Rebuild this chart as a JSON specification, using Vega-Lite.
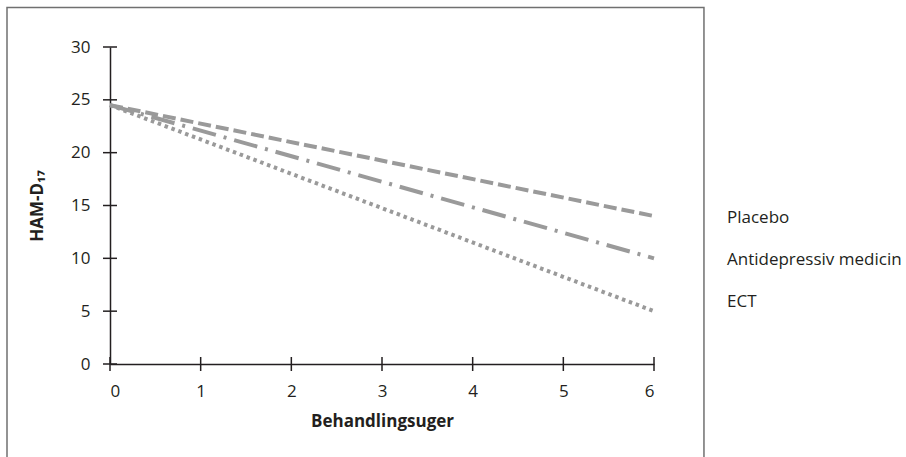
{
  "$schema": "https://vega.github.io/schema/vega-lite/v6.json",
  "width": 544,
  "height": 317,
  "autosize": {"type": "none"},
  "padding": {"left": 110, "top": 47, "right": 252, "bottom": 93},
  "background": "white",
  "config": {
    "view": {"stroke": null},
    "font": "Open Sans",
    "axis": {
      "grid": false,
      "domainColor": "#231f20",
      "domainWidth": 1.5,
      "ticks": false,
      "labelFontSize": 17,
      "labelColor": "#231f20",
      "labelFont": "Open Sans",
      "titleFont": "Open Sans",
      "titleFontSize": 17,
      "titleFontWeight": "bold",
      "titleColor": "#231f20"
    },
    "legend": {
      "labelFont": "Open Sans",
      "labelFontSize": 17,
      "labelColor": "#231f20",
      "labelLimit": 400
    }
  },
  "resolve": {"axis": {"x": "independent", "y": "independent"}},
  "datasets": {
    "linjer": [
      {"series": "Placebo", "uge": 0, "score": 24.5},
      {"series": "Placebo", "uge": 6, "score": 14},
      {"series": "Antidepressiv medicin", "uge": 0, "score": 24.5},
      {"series": "Antidepressiv medicin", "uge": 6, "score": 10},
      {"series": "ECT", "uge": 0, "score": 24.5},
      {"series": "ECT", "uge": 6, "score": 5}
    ],
    "yticks": [{"hamd": 0}, {"hamd": 5}, {"hamd": 10}, {"hamd": 15}, {"hamd": 20}, {"hamd": 25}, {"hamd": 30}],
    "xticks": [{"uge": 0}, {"uge": 1}, {"uge": 2}, {"uge": 3}, {"uge": 4}, {"uge": 5}, {"uge": 6}]
  },
  "layer": [
    {
      "data": {"values": [{"frame": "box"}]},
      "mark": {"type": "rect", "filled": false, "stroke": "#707070", "strokeWidth": 1.5, "clip": false},
      "encoding": {
        "x": {
          "datum": -1.136,
          "type": "quantitative",
          "scale": {"domain": [0, 6], "nice": false, "zero": false},
          "axis": null
        },
        "x2": {"datum": 6.551},
        "y": {
          "datum": 33.75,
          "type": "quantitative",
          "scale": {"domain": [0, 30], "nice": false, "zero": false},
          "axis": null
        },
        "y2": {"datum": -9.5}
      }
    },
    {
      "data": {"name": "linjer"},
      "mark": {"type": "line", "color": "#9a9a9a", "strokeWidth": 4, "clip": false},
      "encoding": {
        "x": {
          "field": "uge",
          "type": "quantitative",
          "scale": {"domain": [0, 6], "nice": false, "zero": false},
          "axis": {"orient": "bottom", "values": [0, 1, 2, 3, 4, 5, 6], "title": "Behandlingsuger", "labelPadding": 19, "titlePadding": 14}
        },
        "y": {
          "field": "score",
          "type": "quantitative",
          "scale": {"domain": [0, 30], "nice": false, "zero": false},
          "axis": {"orient": "left", "values": [0, 5, 10, 15, 20, 25, 30], "title": "HAM-D₁₇", "labelPadding": 20, "titlePadding": 24}
        },
        "strokeDash": {
          "field": "series",
          "type": "nominal",
          "scale": {
            "domain": ["Placebo", "Antidepressiv medicin", "ECT"],
            "range": [[13, 5], [24, 8, 3, 8], [3.5, 3.8]]
          },
          "legend": {
            "orient": "none",
            "legendX": 600,
            "legendY": 162,
            "title": null,
            "symbolSize": 0,
            "symbolOpacity": 0,
            "symbolStrokeWidth": 0,
            "labelOffset": 0,
            "rowPadding": 24
          }
        },
        "strokeWidth": {
          "field": "series",
          "type": "nominal",
          "scale": {"domain": ["Placebo", "Antidepressiv medicin", "ECT"], "range": [4, 4, 3.5]},
          "legend": null
        }
      }
    },
    {
      "data": {"name": "yticks"},
      "mark": {"type": "tick", "orient": "horizontal", "size": 14, "thickness": 1.5, "color": "#231f20", "opacity": 1, "clip": false},
      "encoding": {
        "y": {
          "field": "hamd",
          "type": "quantitative",
          "scale": {"domain": [0, 30], "nice": false, "zero": false},
          "axis": null
        },
        "x": {
          "datum": 0,
          "type": "quantitative",
          "scale": {"domain": [0, 6], "nice": false, "zero": false},
          "axis": null
        }
      }
    },
    {
      "data": {"name": "xticks"},
      "mark": {"type": "tick", "orient": "vertical", "size": 14, "thickness": 1.5, "color": "#231f20", "opacity": 1, "clip": false},
      "encoding": {
        "x": {
          "field": "uge",
          "type": "quantitative",
          "scale": {"domain": [0, 6], "nice": false, "zero": false},
          "axis": null
        },
        "y": {
          "datum": 0,
          "type": "quantitative",
          "scale": {"domain": [0, 30], "nice": false, "zero": false},
          "axis": null
        }
      }
    }
  ]
}
